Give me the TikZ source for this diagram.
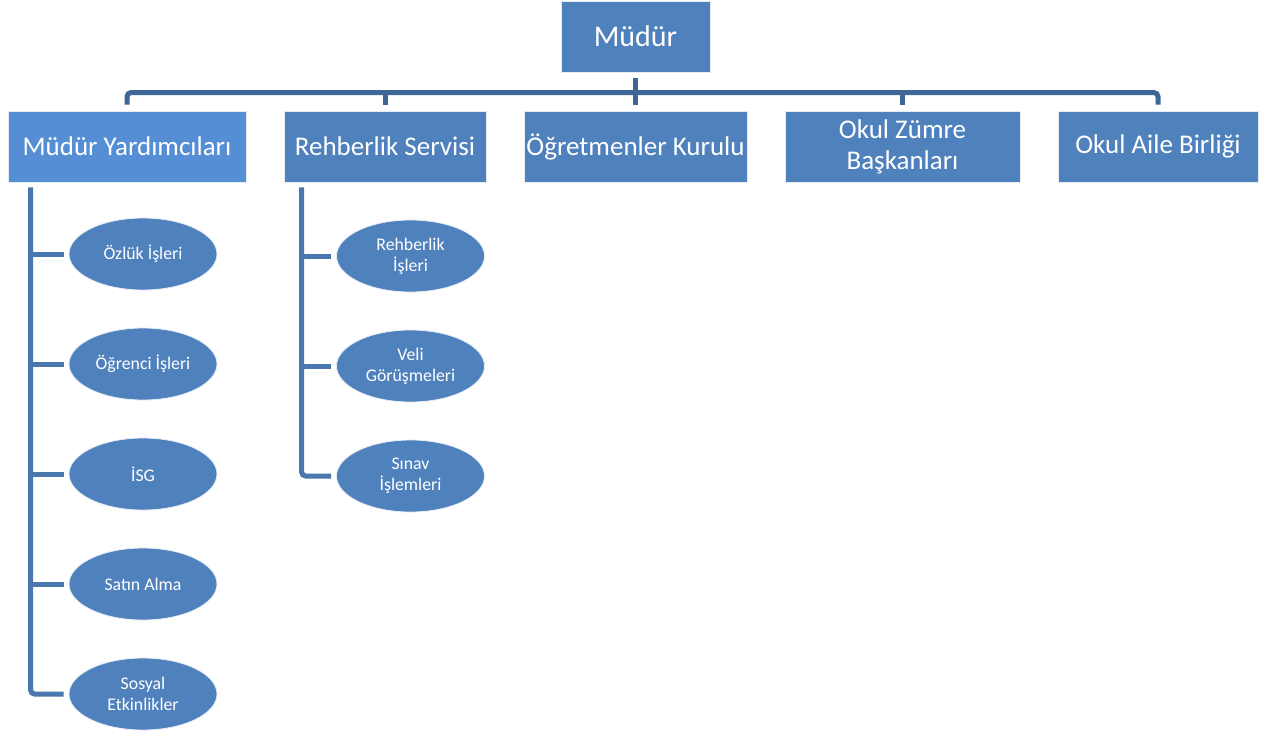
\documentclass[tikz,border=0pt]{standalone}
\usepackage{fontspec}
\setmainfont{Carlito}
\usetikzlibrary{shapes.geometric,positioning}

\definecolor{unitblue}{RGB}{79,129,189}
\definecolor{lightunit}{RGB}{85,142,213}
\definecolor{buscol}{RGB}{62,102,150}
\definecolor{subcol}{RGB}{74,119,174}

\tikzset{
  unit/.style={rectangle, fill=unitblue, draw=white!85!unitblue, line width=0.4pt,
               text=white, font=\fontsize{13.5}{15.5}\selectfont, align=center,
               minimum height=35.5pt, inner sep=1pt},
  task/.style={ellipse, fill=unitblue, draw=white!85!unitblue, line width=0.4pt,
               text=white, font=\fontsize{8.9}{10.5}\selectfont, align=center,
               minimum width=74pt, minimum height=36pt, inner sep=0pt},
  link/.style={draw=buscol, line width=2.5pt},
  sublink/.style={draw=subcol, line width=2.5pt}
}

\begin{document}
\begin{tikzpicture}[x=0.5pt,y=-0.5pt]
    \useasboundingbox (0,0) rectangle (1267,736);

    % top
    \node[unit, minimum width=74.5pt, font=\fontsize{15}{17}\selectfont] (mudur) at (635.5,36.5) {Müdür};

    % second row
    \node[unit, fill=lightunit, minimum width=119pt] (yard)   at (127,146.5)   {Müdür Yardımcıları};
    \node[unit, minimum width=101pt]                 (rehber) at (385,146.5)   {Rehberlik Servisi};
    \node[unit, minimum width=111.5pt]               (ogret)  at (635.5,146.5) {Öğretmenler Kurulu};
    \node[unit, minimum width=117.5pt]               (zumre)  at (902.5,146.5) {Okul Zümre\\Başkanları};
    \node[unit, minimum width=100pt]                 (aile)   at (1158,146.5)  {Okul Aile Birliği};

    % tasks
    \node[task] (ozluk)   at (143,254) {Özlük İşleri};
    \node[task] (ogrenci) at (143,364) {Öğrenci İşleri};
    \node[task] (isg)     at (143,474) {İSG};
    \node[task] (satin)   at (143,584) {Satın Alma};
    \node[task] (sosyal)  at (143,694) {Sosyal\\Etkinlikler};

    \node[task] (rehis) at (410.5,256) {Rehberlik\\İşleri};
    \node[task] (veli)  at (410.5,366) {Veli\\Görüşmeleri};
    \node[task] (sinav) at (410.5,476) {Sınav\\İşlemleri};

    % bus
    \draw[link, rounded corners=2pt] ([yshift=3pt]yard.north) |- ([yshift=9pt]aile.north)
        -- ([yshift=3pt]aile.north);
    \foreach \n in {rehber,zumre}
        \draw[link] ([yshift=9pt]\n.north) -- ([yshift=3pt]\n.north);
    \draw[link] ([yshift=-3pt]mudur.south) -- ([yshift=3pt]ogret.north);

    % spines
    \coordinate (yspine) at ([xshift=11.5pt,yshift=-2.5pt]yard.south west);
    \coordinate (rspine) at ([xshift=9pt,yshift=-2.5pt]rehber.south west);

    \draw[sublink, rounded corners=2pt] (yspine) |- ([xshift=-2.5pt]sosyal.west);
    \foreach \n in {ozluk,ogrenci,isg,satin}
        \draw[sublink] (yspine |- \n.west) -- ([xshift=-2.5pt]\n.west);

    \draw[sublink, rounded corners=2pt] (rspine) |- ([xshift=-2.5pt]sinav.west);
    \foreach \n in {rehis,veli}
        \draw[sublink] (rspine |- \n.west) -- ([xshift=-2.5pt]\n.west);

\end{tikzpicture}
\end{document}
